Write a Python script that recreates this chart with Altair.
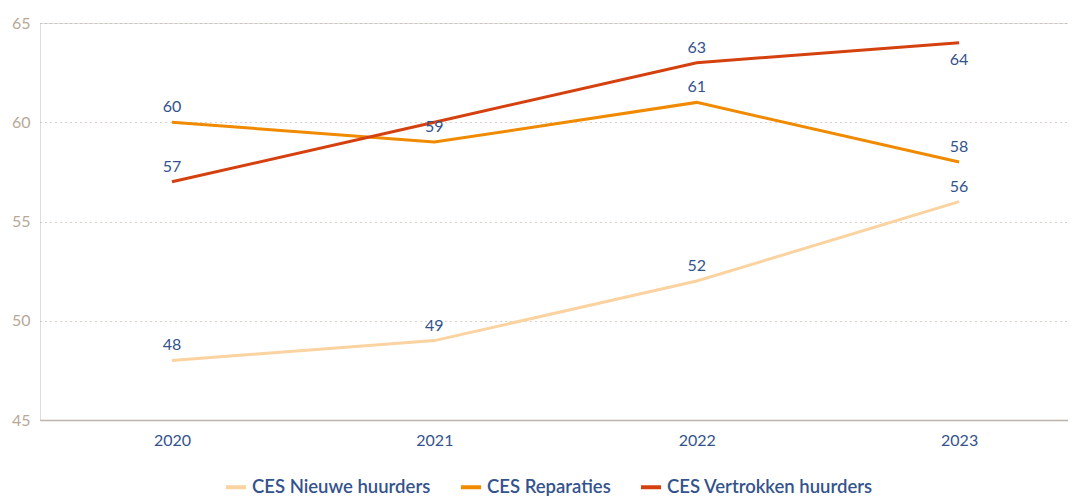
import altair as alt
import pandas as pd

years = [2020, 2021, 2022, 2023]
series = ["CES Nieuwe huurders", "CES Reparaties", "CES Vertrokken huurders"]
nieuwe = [48, 49, 52, 56]
reparaties = [60, 59, 61, 58]
vertrokken = [57, 60, 63, 64]
colors = ["#fad3a0", "#f08a00", "#d4410f"]
# where each value label sits: above / below / none
label_pos = {
    "CES Nieuwe huurders": ["above", "above", "above", "above"],
    "CES Reparaties": ["above", "above", "above", "above"],
    "CES Vertrokken huurders": ["above", "none", "above", "below"],
}

rows = []
for name, vals in zip(series, [nieuwe, reparaties, vertrokken]):
    for yr, v, p in zip(years, vals, label_pos[name]):
        rows.append({"year": yr, "value": v, "series": name, "pos": p})
df = pd.DataFrame(rows)

FONT = "Lato"
TXT = "#34538c"

x = alt.X(
    "year:Q",
    scale=alt.Scale(domain=[2019.497, 2023.415], nice=False, zero=False),
    axis=alt.Axis(values=years, format="d", title=None, grid=False, ticks=False,
                  domain=True, domainColor="#bdb3ab", domainWidth=1.5,
                  labelColor=TXT, labelFontSize=16, labelPadding=12, labelFont=FONT),
)
y = alt.Y(
    "value:Q",
    scale=alt.Scale(domain=[45, 65], nice=False, zero=False),
    axis=alt.Axis(values=[45, 50, 55, 60, 65], title=None, domain=False, ticks=False,
                  grid=True, gridDash=[1, 4], gridColor="#b5a595", gridWidth=1,
                  labelColor="#b8a898", labelFontSize=16, labelPadding=10, labelFont=FONT),
)
color = alt.Color(
    "series:N",
    scale=alt.Scale(domain=series, range=colors),
    legend=alt.Legend(orient="none", legendX=184, legendY=452, direction="horizontal",
                      title=None, symbolType="stroke",
                      symbolStrokeWidth=4, symbolSize=400, labelFontSize=18.5,
                      labelFontWeight=600, labelLimit=0,
                      labelFont=FONT, labelColor=TXT, columnPadding=22),
)

lines = alt.Chart(df).mark_line(strokeWidth=3).encode(x=x, y=y, color=color)

above = alt.Chart(df).transform_filter(alt.datum.pos == "above").mark_text(
    dy=-15, fontSize=16, font=FONT, color=TXT
).encode(x=x, y=y, text=alt.Text("value:Q"))

below = alt.Chart(df).transform_filter(alt.datum.pos == "below").mark_text(
    dy=17, fontSize=16, font=FONT, color=TXT
).encode(x=x, y=y, text=alt.Text("value:Q"))

chart = alt.layer(lines, above, below).properties(
    width=1028, height=397,
    autosize=alt.AutoSizeParams(type="none"),
    padding={"left": 32, "top": 15, "right": 0, "bottom": 77},
).configure_view(stroke=None).configure(background="white")

chart.save("out.html", embed_options={"renderer": "svg", "actions": False})
